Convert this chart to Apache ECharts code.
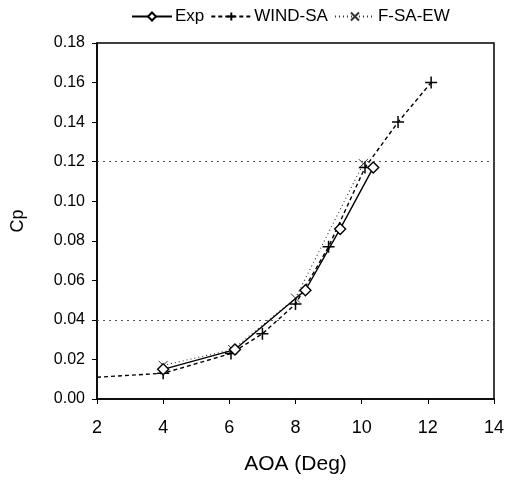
<!DOCTYPE html>
<html><head><meta charset="utf-8">
<script src="https://cdn.jsdelivr.net/npm/echarts@6/dist/echarts.min.js"></script>
<style>html,body{margin:0;padding:0;background:#fff}#c{width:507px;height:481px}</style>
</head><body><div id="c"></div>
<script>
const expAoa = [4.0, 6.17, 8.3, 9.35, 10.35];
const expCp = [0.015, 0.025, 0.055, 0.086, 0.117];
const windAoa = [2.0, 4.0, 6.05, 7.0, 8.0, 9.0, 10.1, 11.1, 12.1];
const windCp = [0.011, 0.013, 0.023, 0.033, 0.048, 0.077, 0.117, 0.140, 0.160];
const fsaAoa = [4.0, 6.1, 8.0, 10.05];
const fsaCp = [0.017, 0.025, 0.051, 0.119];
const gridRefs = [0.04, 0.12];
const xTicks = [2, 4, 6, 8, 10, 12, 14];

const FONT = '"Liberation Sans", Arial, sans-serif';
const plus = 'path://M0,5L10,5M5,0L5,10';
const cross = 'path://M0,0L10,10M10,0L0,10';
const zip = (a, b) => a.map((v, i) => [v, b[i]]);

const chart = echarts.init(document.getElementById('c'), null, {renderer: 'canvas'});
chart.setOption({
  animation: false,
  backgroundColor: '#fff',
  textStyle: {fontFamily: FONT},
  legend: {
    top: 3, left: 126, itemGap: 6, itemWidth: 40, itemHeight: 10,
    textStyle: {fontFamily: FONT, fontSize: 17, color: '#000', padding: [0, 0, 0, -2]},
    data: ['Exp', 'WIND-SA', 'F-SA-EW']
  },
  grid: {left: 97, right: 12, top: 43, bottom: 82, show: true, borderColor: '#000', borderWidth: 1.5},
  xAxis: {
    type: 'value', min: 2, max: 14, interval: 2,
    name: 'AOA (Deg)', nameLocation: 'middle', nameGap: 55,
    nameTextStyle: {fontFamily: FONT, fontSize: 21, color: '#000'},
    axisLine: {lineStyle: {color: '#000', width: 1.5}},
    axisTick: {show: true, length: 5, lineStyle: {color: '#000'}},
    axisLabel: {fontFamily: FONT, fontSize: 18, color: '#000', margin: 20, formatter: v => xTicks.includes(v) ? String(v) : ''},
    splitLine: {show: false}
  },
  yAxis: {
    type: 'value', min: 0, max: 0.18, interval: 0.02,
    name: 'Cp', nameLocation: 'middle', nameGap: 70, nameRotate: 90,
    nameTextStyle: {fontFamily: FONT, fontSize: 18, color: '#000'},
    axisLine: {show: true, lineStyle: {color: '#000', width: 1.5}},
    axisTick: {show: true, length: 5, lineStyle: {color: '#000'}},
    axisLabel: {fontFamily: FONT, fontSize: 16, color: '#000', margin: 12, formatter: v => v.toFixed(2)},
    splitLine: {show: false}
  },
  series: [
    {
      name: 'Exp', type: 'line', data: zip(expAoa, expCp),
      symbol: 'diamond', symbolSize: 11,
      lineStyle: {color: '#000', width: 1.4, type: 'solid'},
      itemStyle: {color: '#fff', borderColor: '#000', borderWidth: 1.4},
      markLine: {
        silent: true, symbol: 'none', label: {show: false},
        lineStyle: {color: '#555', type: [2, 4], width: 1},
        data: gridRefs.map(v => ({yAxis: v}))
      },
      z: 3
    },
    {
      name: 'WIND-SA', type: 'line',
      data: zip(windAoa, windCp).map((p, i) => i === 0 ? {value: p, symbol: 'none'} : p),
      symbol: plus, symbolSize: 12,
      lineStyle: {color: '#000', width: 1.4, type: [4, 3]},
      itemStyle: {color: 'transparent', borderColor: '#000', borderWidth: 1.5},
      z: 2
    },
    {
      name: 'F-SA-EW', type: 'line', data: zip(fsaAoa, fsaCp),
      symbol: cross, symbolSize: 9,
      lineStyle: {color: '#333', width: 1.1, type: [1, 3]},
      itemStyle: {color: 'transparent', borderColor: '#333', borderWidth: 1},
      z: 1
    }
  ]
});
</script>
</body></html>
